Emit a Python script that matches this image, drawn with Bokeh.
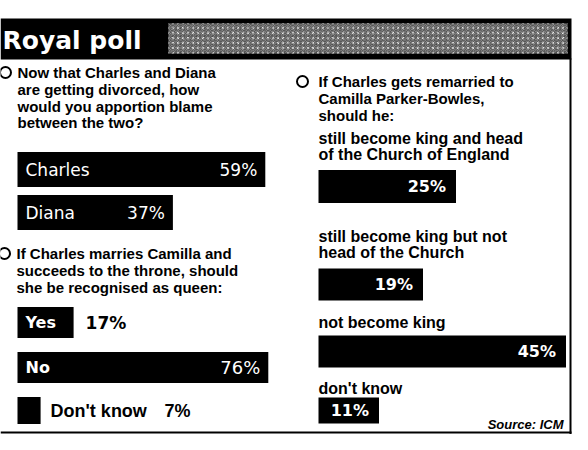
from bokeh.plotting import figure
from bokeh.models import Range1d
from bokeh.embed import file_html
from bokeh.resources import INLINE
from bokeh.core.properties import value

# ---------------- data ----------------
title = "Royal poll"

q1_lines = ["Now that Charles and Diana", "are getting divorced, how",
            "would you apportion blame", "between the two?"]
q1_labels = ["Charles", "Diana"]
q1_values = [59, 37]

q2_lines = ["If Charles marries Camilla and", "succeeds to the throne, should",
            "she be recognised as queen:"]
q2_labels = ["Yes", "No", "Don't know"]
q2_values = [17, 76, 7]

q3_lines = ["If Charles gets remarried to", "Camilla Parker-Bowles,", "should he:"]
q3_labels = [["still become king and head", "of the Church of England"],
             ["still become king but not", "head of the Church"],
             ["not become king"],
             ["don't know"]]
q3_values = [25, 19, 45, 11]

source_note = "Source: ICM"

# ---------------- layout ----------------
SANS = value("Liberation Sans")
DJV = value("DejaVu Sans")

p = figure(width=572, height=434, x_range=Range1d(0, 572), y_range=Range1d(434, 0),
           output_backend="svg", toolbar_location=None, min_border=0,
           x_axis_location=None, y_axis_location=None)
p.grid.visible = False
p.outline_line_color = None
p.background_fill_color = "white"
p.border_fill_color = "white"

# title bar
p.quad(left=[0], right=[571], top=[18], bottom=[59], fill_color="black", line_color=None)
p.quad(left=[168], right=[567], top=[23], bottom=[53], fill_color="#8a8a8a", line_color=None,
       hatch_pattern="dot", hatch_color="white", hatch_alpha=0.85, hatch_scale=5,
       hatch_weight=1)
p.quad(left=[168], right=[567], top=[23], bottom=[53], fill_color=None, line_color=None,
       hatch_pattern="spiral", hatch_color="black", hatch_alpha=0.45, hatch_scale=8,
       hatch_weight=1)
p.text(x=[2], y=[40], text=[title], text_color="white", text_font=DJV,
       text_font_style="bold", text_font_size="25px", text_baseline="middle")

# frame
p.segment(x0=[570], y0=[58], x1=[570], y1=[434], line_color="black", line_width=2)
p.segment(x0=[0], y0=[432], x1=[571], y1=[432], line_color="black", line_width=2)

# bullets
p.scatter(x=[5, 4, 302], y=[72, 253, 81], marker="circle", size=11,
          fill_color="white", line_color="black", line_width=2)

def qtext(x, ys, lines, size="15px"):
    p.text(x=[x] * len(lines), y=ys, text=lines, text_color="black", text_font=SANS,
           text_font_style="bold", text_font_size=size, text_baseline="middle")

# ---- Question 1 ----
LX = 17
s1 = 4.2
qtext(LX, [72, 89, 106, 122], q1_lines)
q1_y = [169, 212]
q1_right = [LX + v * s1 for v in q1_values]
p.hbar(y=q1_y, left=LX, right=q1_right, height=35, fill_color="black", line_color=None)
p.text(x=[25] * 2, y=q1_y, text=q1_labels, text_color="white", text_font=DJV,
       text_font_size="17px", text_baseline="middle")
p.text(x=[r - 8 for r in q1_right], y=q1_y, text=[f"{v}%" for v in q1_values],
       text_color="white", text_font=DJV, text_font_size="17px",
       text_baseline="middle", text_align="right")

# ---- Question 2 ----
s2 = 3.3
qtext(16, [253, 270, 287], q2_lines)
q2_y = [322, 367, 410]
q2_h = [31, 31, 27]
q2_right = [LX + v * s2 for v in q2_values]
p.hbar(y=q2_y, left=LX, right=q2_right, height=q2_h, fill_color="black", line_color=None)
# Yes
p.text(x=[25], y=[q2_y[0]], text=[q2_labels[0]], text_color="white", text_font=DJV,
       text_font_style="bold", text_font_size="16px", text_baseline="middle")
p.text(x=[q2_right[0] + 12], y=[q2_y[0]], text=[f"{q2_values[0]}%"], text_color="black",
       text_font=DJV, text_font_style="bold", text_font_size="17px", text_baseline="middle")
# No
p.text(x=[25], y=[q2_y[1]], text=[q2_labels[1]], text_color="white", text_font=DJV,
       text_font_style="bold", text_font_size="16px", text_baseline="middle")
p.text(x=[q2_right[1] - 8], y=[q2_y[1]], text=[f"{q2_values[1]}%"], text_color="white",
       text_font=DJV, text_font_size="18px", text_baseline="middle", text_align="right")
# Don't know
p.text(x=[q2_right[2] + 10], y=[q2_y[2]], text=[q2_labels[2]],
       text_color="black", text_font=SANS, text_font_style="bold", text_font_size="18px",
       text_baseline="middle")
p.text(x=[q2_right[2] + 124], y=[q2_y[2]], text=[f"{q2_values[2]}%"],
       text_color="black", text_font=SANS, text_font_style="bold", text_font_size="18px",
       text_baseline="middle")

# ---- Question 3 ----
RX = 318
s3 = 5.5
qtext(RX, [81, 98, 115], q3_lines)
q3_label_y = [[138, 154], [236, 252], [322], [388]]
for lines, ys in zip(q3_labels, q3_label_y):
    qtext(RX, ys, lines, size="16px")
q3_y = [186, 284, 351, 410]
q3_h = [33, 32, 32, 26]
q3_right = [RX + v * s3 for v in q3_values]
p.hbar(y=q3_y, left=RX, right=q3_right, height=q3_h, fill_color="black", line_color=None)
p.text(x=[r - 10 for r in q3_right], y=q3_y, text=[f"{v}%" for v in q3_values],
       text_color="white", text_font=DJV, text_font_style="bold", text_font_size="16px",
       text_baseline="middle", text_align="right")

p.text(x=[563], y=[424], text=[source_note], text_color="black", text_font=SANS,
       text_font_style="bold italic", text_font_size="13px", text_baseline="middle",
       text_align="right")

open("out.html", "w").write(file_html(p, INLINE))
